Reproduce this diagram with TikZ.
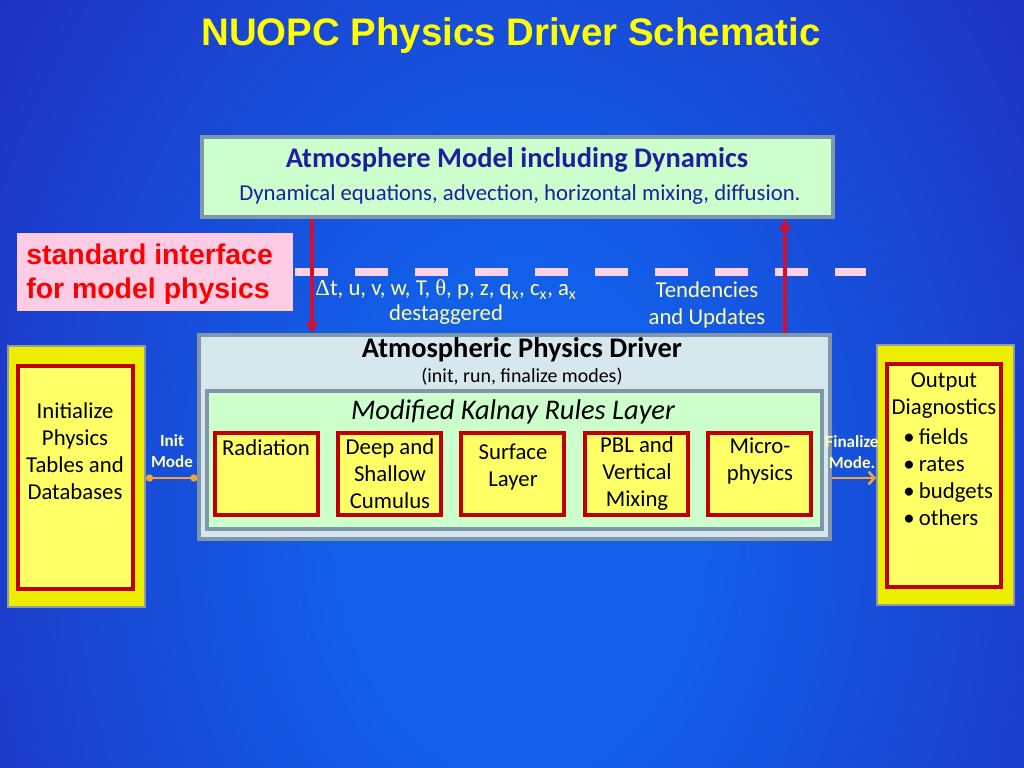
\documentclass[tikz,border=0pt]{standalone}
\usepackage{fontspec}
\setmainfont{Carlito}
\newfontfamily\arialfont{Liberation Sans}
\newfontfamily\greekfont{Liberation Serif}
\usetikzlibrary{arrows.meta,fit,calc,shadows}

\definecolor{bgin}{HTML}{1260EA}
\definecolor{bgout}{HTML}{2812A4}
\definecolor{lightgreen}{HTML}{CCFFCC}
\definecolor{drvfill}{HTML}{D6E7ED}
\definecolor{panelborder}{HTML}{7F97A8}
\definecolor{modyellow}{HTML}{FFFF66}
\definecolor{modred}{HTML}{C00000}
\definecolor{outeryellow}{HTML}{EEEE00}
\definecolor{outerborder}{HTML}{8C9AAA}
\definecolor{pinkbox}{HTML}{FFCCE6}
\definecolor{pinkdash}{HTML}{FFD2EA}
\definecolor{atmblue}{HTML}{1E1E9E}
\definecolor{arrowred}{HTML}{D0102E}
\definecolor{paleyellow}{HTML}{FFFF99}
\definecolor{modelabel}{HTML}{FFFFB8}
\definecolor{orangeline}{HTML}{F2A830}
\definecolor{titleyellow}{HTML}{FFFF00}
\definecolor{stdred}{HTML}{FF0000}

\pgfdeclareradialshading{bgshade}{\pgfpoint{0bp}{0bp}}{color(0bp)=(bgin); color(6bp)=(bgin); color(34bp)=(bgout); color(50bp)=(bgout)}

\begin{document}
\begin{tikzpicture}[x=0.703125pt,y=-0.703125pt,
  panel/.style={draw=panelborder, line width=2.2pt, inner sep=0pt},
  greenpanel/.style={panel, fill=lightgreen},
  drvpanel/.style={panel, fill=drvfill},
  module/.style={draw=modred, line width=2.5pt, fill=modyellow, inner sep=0pt},
  outerbox/.style={draw=outerborder, line width=1.4pt, fill=outeryellow, inner sep=0pt,
     drop shadow={shadow xshift=1pt, shadow yshift=-1pt, opacity=0.35, fill=black}},
  bodytext/.style={font=\fontsize{16}{19}\selectfont, align=center, inner sep=0pt},
  modelbl/.style={font=\fontsize{12}{14.5}\selectfont\bfseries, text=modelabel, align=center, inner sep=0pt},
  redarrow/.style={draw=arrowred, line width=2.4pt, -{Triangle[length=8pt,width=8pt]}},
  orangelink/.style={draw=orangeline, line width=1.8pt},
  dashline/.style={draw=pinkdash, line width=5.6pt, dash pattern=on 23.2pt off 19pt}
]
% background
\useasboundingbox (0,0) rectangle (1024,768);
\begin{scope}
  \clip (0,0) rectangle (1024,768);
  \shade[shading=bgshade] (-200,-480) rectangle (1240,1520);
\end{scope}

% title
\node[font=\arialfont\bfseries\fontsize{27}{32}\selectfont, text=titleyellow, inner sep=0pt] (title) at (511,36) {NUOPC Physics Driver Schematic};

% atmosphere model box
\node[greenpanel, fit={(202,137)(833,217)}] (atm) {};
\node[font=\fontsize{20}{24}\selectfont\bfseries, text=atmblue, inner sep=0pt] (atmT) at (517,160) {Atmosphere Model including Dynamics};
\node[font=\fontsize{16}{19}\selectfont, text=atmblue, inner sep=0pt] (atmS) at (520,195) {Dynamical equations, advection, horizontal mixing, diffusion.};

% standard interface
\node[fill=pinkbox, inner sep=0pt, fit={(17,233)(293,311)}] (std) {};
\node[anchor=west, align=left, inner sep=0pt, font=\arialfont\bfseries\fontsize{20}{24}\selectfont, text=stdred] (stdT) at (26,274) {standard interface\\for model physics};

% dashed interface line
\coordinate (dashL) at (295,272);
\coordinate (dashR) at (866,272);
\draw[dashline] (dashL) -- (dashR);

% driver
\node[drvpanel, fit={(199,335)(830,539)}] (drv) {};
\node[font=\fontsize{20}{24}\selectfont\bfseries, inner sep=0pt] (drvT) at (522,350) {Atmospheric Physics Driver};
\node[font=\fontsize{14}{16}\selectfont, inner sep=0pt] (drvS) at (522,377) {(init, run, finalize modes)};

% Kalnay layer
\node[greenpanel, fit={(207,391)(822,529)}] (mkr) {};
\node[font=\fontsize{20}{24}\selectfont\itshape, inner sep=0pt] (mkrT) at (513,412) {Modified Kalnay Rules Layer};

% modules
\node[module, fit={(215,433)(318,515)}] (rad) {};
\node[bodytext] (radT) at (266,448) {Radiation};
\node[module, fit={(338,433)(441,515)}] (cum) {};
\node[bodytext] (cumT) at (390,474) {Deep and\\Shallow\\Cumulus};
\node[module, fit={(461,433)(564,515)}] (sfc) {};
\node[bodytext] (sfcT) at (513,467) {Surface\\Layer};
\node[module, fit={(585,433)(688,515)}] (pbl) {};
\node[bodytext] (pblT) at (637,474) {PBL and\\Vertical\\Mixing};
\node[module, fit={(708,433)(811,515)}] (mic) {};
\node[bodytext] (micT) at (760,461) {Micro-\\physics};

% left box
\node[outerbox, fit={(8,346)(145,607)}] (lout) {};
\node[module, fit={(18,366)(133,589)}] (lin) {};
\node[bodytext] (linT) at (75,451) {Initialize\\Physics\\Tables and\\Databases};

% right box
\node[outerbox, fit={(877,345)(1014,605)}] (rout) {};
\node[module, fit={(887,364)(1001,587)}] (rin) {};
\node[bodytext] (rinT) at (944,396) {Output\\Diagnostics};
\node[bodytext, align=left, anchor=west] (rinL) at (903,477) {\makebox[11pt][l]{•}fields\\\makebox[11pt][l]{•}rates\\\makebox[11pt][l]{•}budgets\\\makebox[11pt][l]{•}others};

% red arrows
\coordinate (dnx) at (312,0);
\coordinate (upx) at (785,0);
\draw[redarrow] (atm.south -| dnx) -- (drv.north -| dnx);
\draw[redarrow] (drv.north -| upx) -- (atm.south -| upx);

% labels on interface
\node[font=\fontsize{16}{17}\selectfont, text=paleyellow, align=center, inner sep=0pt] (vars) at (446,302) {{\greekfont Δ}t, u, v, w, T, {\greekfont θ}, p, z, q\textsubscript{x}, c\textsubscript{x}, a\textsubscript{x}\\destaggered};
\node[font=\fontsize{16}{19}\selectfont, text=paleyellow, align=center, inner sep=0pt] (tend) at (707,305) {Tendencies\\and Updates};

% mode links
\coordinate (yc) at (0,478);
\node[modelbl] (initL) at (172,451) {Init\\Mode};
\node[modelbl] (finL) at (852,452) {Finalize\\Mode.};
\draw[orangelink, {Circle[length=5pt]}-{Circle[length=5pt]}] (lout.east |- yc) -- (drv.west |- yc);
\draw[orangelink, -{Straight Barb[length=4pt,width=9pt]}] (drv.east |- yc) -- (rout.west |- yc);
\end{tikzpicture}
\end{document}
